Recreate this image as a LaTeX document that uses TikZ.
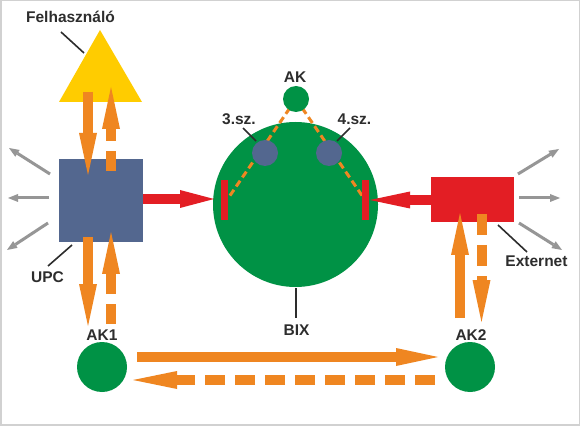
\documentclass[tikz,border=0pt]{standalone}
\usepackage{fontspec}
\setmainfont{Liberation Sans}
\usetikzlibrary{arrows.meta}
\definecolor{orng}{RGB}{239,134,33}
\definecolor{grn}{RGB}{0,146,69}
\definecolor{upcblue}{RGB}{83,103,143}
\definecolor{rd}{RGB}{227,30,36}
\definecolor{yel}{RGB}{255,204,0}
\definecolor{gry}{RGB}{150,150,150}
\definecolor{txt}{RGB}{45,45,45}
\tikzset{
  oarrow/.style={draw=orng, line width=10pt, -{Triangle[length=42pt,width=18pt,line width=0pt]}},
  odash/.style={oarrow, dash pattern=on 20pt off 10pt},
  rarrow/.style={draw=rd, line width=10pt},
  garrow/.style={draw=gry, line width=3pt, -{Triangle[length=10pt,width=8pt,line width=0pt]}},
  lead/.style={draw=txt, line width=1.6pt},
  lbl/.style={font=\bfseries\fontsize{15.5}{18}\selectfont, text=txt, inner sep=0pt, anchor=base},
  akline/.style={draw=orng, line width=3pt, dash pattern=on 7pt off 4pt},
}
\begin{document}
\begin{tikzpicture}[x=1pt,y=-1pt]
\useasboundingbox (0,0) rectangle (580,427);
\fill[white] (0,0) rectangle (580,427);
\draw[black!18, line width=1.5pt] (0.75,0.75) rectangle (579.25,425);

% main shapes
\fill[yel] (100,30) -- (142,102) -- (59,102) -- cycle;
\coordinate (tri) at (100,66);
\node[fill=upcblue, minimum width=84pt, minimum height=83pt, inner sep=0pt] (upc) at (101,200.5) {};
\node[fill=rd, minimum width=83pt, minimum height=45pt, inner sep=0pt] (ext) at (472.5,199.5) {};
\node[circle, fill=grn, minimum size=165pt, inner sep=0pt] (bix) at (295.5,204.5) {};
\node[circle, fill=grn, minimum size=50pt, inner sep=0pt] (ak1) at (102,367) {};
\node[circle, fill=grn, minimum size=50pt, inner sep=0pt] (ak2) at (470,367) {};

% orange vertical arrows
\coordinate (a1s) at (88,92);   \coordinate (a1e) at (88,175);
\coordinate (a2s) at (111,171); \coordinate (a2e) at (111,87);
\coordinate (a3s) at (88,237);  \coordinate (a3e) at (88,326);
\coordinate (a4s) at (111,324); \coordinate (a4e) at (111,232);
\coordinate (a5s) at (460,318); \coordinate (a5e) at (460,213);
\coordinate (a6s) at (481.5,214); \coordinate (a6e) at (481.5,322);
\draw[oarrow] (a1s) -- (a1e);
\draw[odash] (a2s) -- (a2e);
\draw[oarrow] (a3s) -- (a3e);
\draw[odash] (a4s) -- (a4e);
\draw[oarrow] (a5s) -- (a5e);
\draw[odash, dash pattern=on 21pt off 10pt] (a6s) -- (a6e);

% orange horizontal arrows
\coordinate (h1s) at (137,357); \coordinate (h1e) at (438,357);
\coordinate (h2s) at (435,380); \coordinate (h2e) at (133,380);
\draw[oarrow] (h1s) -- (h1e);
\draw[odash, -{Triangle[length=44pt,width=18pt,line width=0pt]}] (h2s) -- (h2e);

% AK dashed lines and small circles
\coordinate (akc) at (296,99);
\coordinate (lb) at (229,197);
\coordinate (rb) at (363,197);
\draw[akline] (akc) -- (lb);
\draw[akline] (akc) -- (rb);
\node[circle, fill=grn, minimum size=26pt, inner sep=0pt] (ak) at (296,99) {};
\node[circle, fill=upcblue, minimum size=26pt, inner sep=0pt] (sz3) at (265,153) {};
\node[circle, fill=upcblue, minimum size=26pt, inner sep=0pt] (sz4) at (329,153) {};

% red bars and arrows
\node[fill=rd, minimum width=7pt, minimum height=40pt, inner sep=0pt] (barl) at (224,200) {};
\node[fill=rd, minimum width=7pt, minimum height=40pt, inner sep=0pt] (barr) at (365,200) {};
\coordinate (r1s) at (143,199); \coordinate (r1e) at (214,199);
\coordinate (r2s) at (431,200); \coordinate (r2e) at (370,200);
\draw[rarrow, -{Triangle[length=34pt,width=18pt,line width=0pt]}] (r1s) -- (r1e);
\draw[rarrow, -{Triangle[length=40pt,width=17pt,line width=0pt]}] (r2s) -- (r2e);

% gray arrows
\coordinate (g1s) at (50,174);  \coordinate (g1e) at (9,148);
\coordinate (g2s) at (49,198);  \coordinate (g2e) at (8,198);
\coordinate (g3s) at (48,223);  \coordinate (g3e) at (7,250);
\coordinate (g4s) at (518,174); \coordinate (g4e) at (559,149);
\coordinate (g5s) at (519,198); \coordinate (g5e) at (560,198);
\coordinate (g6s) at (519,223); \coordinate (g6e) at (562,250);
\foreach \i in {1,...,6} {\draw[garrow] (g\i s) -- (g\i e);}

% labels
\node[lbl] (lf) at (70.5,23) {Felhasználó};
\node[lbl] (lak) at (295,83) {AK};
\node[lbl] (l3) at (239,125) {3.sz.};
\node[lbl] (l4) at (354.5,125) {4.sz.};
\node[lbl] (lupc) at (47.5,283) {UPC};
\node[lbl] (lext) at (536.5,267) {Externet};
\node[lbl] (lbix) at (296.5,335) {BIX};
\node[lbl] (lak1) at (102,340) {AK1};
\node[lbl] (lak2) at (471,340) {AK2};

% leader lines
\coordinate (f1) at (61,32);   \coordinate (f2) at (84,53);
\coordinate (u1) at (48,266);  \coordinate (u2) at (72,245);
\coordinate (s31) at (243,128); \coordinate (s32) at (256,141);
\coordinate (s41) at (350,128); \coordinate (s42) at (337,141);
\coordinate (e1) at (498,225); \coordinate (e2) at (527,252);
\coordinate (b1) at (296,288); \coordinate (b2) at (296,318);
\draw[lead] (f1) -- (f2);
\draw[lead] (u1) -- (u2);
\draw[lead] (s31) -- (s32);
\draw[lead] (s41) -- (s42);
\draw[lead] (e1) -- (e2);
\draw[lead] (b1) -- (b2);
\end{tikzpicture}
\end{document}
